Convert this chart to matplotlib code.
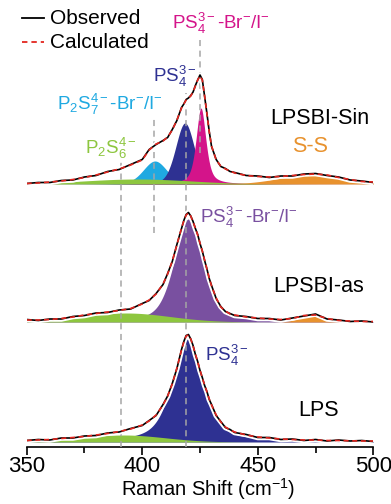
import numpy as np
import matplotlib
matplotlib.use("Agg")
import matplotlib.pyplot as plt
import matplotlib.patheffects as pe
from matplotlib.lines import Line2D

plt.rcParams['font.family'] = ['Liberation Sans', 'DejaVu Sans']
plt.rcParams['mathtext.fontset'] = 'custom'
plt.rcParams['mathtext.rm'] = 'Liberation Sans'
plt.rcParams['mathtext.it'] = 'Liberation Sans:italic'
plt.rcParams['mathtext.bf'] = 'Liberation Sans:bold'

# Raman shift grid (cm-1)
shift = [350, 355, 360, 365, 370, 375, 380, 385, 390, 395, 400,
         403, 406, 409, 411, 413, 415, 417,
         418, 419, 420, 421, 422, 423, 424, 425, 426, 427, 428, 429, 430,
         432, 434, 436, 438, 440,
         445, 450, 455, 460, 465, 470, 475, 480, 485, 490, 495, 500]

# LPSBI-Sin
sin_obs = [0.5, 1.5, 1.5, 3.5, 4, 7, 8.5, 12.5, 14.5, 19.5, 24.5,
           34.5, 39.5, 43.5, 46.5, 54.5, 63.5, 76.5,
           80, 84.5, 86, 88.5, 92, 98.5, 104, 109, 104.5, 87.5, 70.5, 52.5, 37.5,
           24.5, 17.5, 15.5, 12.5, 11.5,
           8.5, 8, 6.5, 8, 8, 10, 10.5, 8.5, 7, 4, 3, 1.5]
sin_calc = [0.5, 1, 2, 3, 4.5, 6.5, 9, 12, 15, 19, 24,
            34, 40, 43, 47, 54, 64, 76,
            80, 84, 86, 88, 92, 98, 104, 108, 104, 88, 70, 52, 38,
            24, 18, 15, 13, 11,
            8.5, 7.5, 7, 7.5, 8.5, 9.5, 10, 9, 6.5, 4.5, 2.5, 2]

# LPSBI-as
as_obs = [2.5, 1.5, 3, 3, 5.5, 6.5, 9, 9.5, 12, 13, 18.5,
          21.5, 28.5, 37.5, 48.5, 60.5, 77.5, 93.5,
          101.5, 107.5, 109.5, 106, 100.5, 93.5, 87.5, 78.5, 71, 61.5, 53, 43.5, 36.5,
          23.5, 15.5, 10.5, 8.5, 6.5,
          5.5, 3.5, 3.5, 2, 4, 6, 8, 3, 2, 0.5, 1, 0]
as_calc = [2, 2, 2.5, 3.5, 5, 7, 8.5, 10, 11.5, 13.5, 18,
           22, 28, 38, 48, 61, 77, 94,
           101, 107, 109, 106, 100, 94, 87, 79, 71, 62, 53, 44, 36,
           24, 15, 11, 8, 7,
           5, 4, 3, 2.5, 3.5, 6.5, 7, 3.5, 1.5, 1, 0.5, 0.5]

# LPS
lps_obs = [1.5, 2.5, 2, 4, 4, 6, 6.5, 9, 10, 13.5, 16.5,
           21.5, 26.5, 37.5, 46, 58.5, 73.5, 92.5,
           100.5, 106.5, 107.5, 103, 96.5, 87.5, 80.5, 71.5, 64.5, 56.5, 50.5, 42.5, 37.5,
           26.5, 20.5, 14.5, 12.5, 9.5,
           7.5, 4.5, 4.5, 2.5, 3, 1.5, 2.5, 1, 2, 1, 1.5, 0.5]
lps_calc = [1.5, 2, 2.5, 3.5, 4.5, 5.5, 7, 8.5, 10.5, 13, 17,
            21, 27, 37, 46, 58, 74, 92,
            100, 106, 107, 103, 96, 88, 80, 72, 64, 57, 50, 43, 37,
            27, 20, 15, 12, 10,
            7, 5, 4, 3, 2.5, 2, 2, 1.5, 1.5, 1.2, 1, 1]

# fitted bands: centre (cm-1), fwhm (cm-1), height, lorentz fraction
sin_centre = [398, 405.5, 418.5, 425.4, 472]
sin_fwhm = [55, 12, 9.5, 5, 32]
sin_height = [5, 23, 61, 76, 8.5]
sin_eta = [0, 0.2, 0.2, 0.6, 0]
sin_colors = ['#8DC63F', '#1FA9E1', '#2E3192', '#D4148A', '#E8922E']

as_centre = [393, 420, 473]
as_fwhm = [45, 14.5, 12]
as_height = [9, 103, 6]
as_eta = [0, 0.45, 0]
as_colors = ['#8DC63F', '#7950A0', '#E8922E']

lps_centre = [392, 419.5]
lps_fwhm = [42, 15.5]
lps_height = [7, 103]
lps_eta = [0, 0.6]
lps_colors = ['#8DC63F', '#2E3192']

offsets = {'sin': 263, 'as': 125, 'lps': 5}
guide_x = [391, 405, 419, 425]
guide_y = [(0, 287), (214, 329), (0, 354), (294, 407)]


def pvoigt(x, c, w, h, eta):
    d = (x - c) / (w / 2)
    lor = 1 / (1 + d ** 2)
    gau = np.exp(-np.log(2) * d ** 2)
    return h * (eta * lor + (1 - eta) * gau)


fig = plt.figure(figsize=(3.91, 5.04), dpi=100)
ax = fig.add_axes([26.7 / 391, 57 / 504, (373.3 - 26.7) / 391, 447 / 504])
xf = np.linspace(350, 500, 1201)

spectra = [
    ('sin', sin_obs, sin_calc, sin_centre, sin_fwhm, sin_height, sin_eta, sin_colors),
    ('as', as_obs, as_calc, as_centre, as_fwhm, as_height, as_eta, as_colors),
    ('lps', lps_obs, lps_calc, lps_centre, lps_fwhm, lps_height, lps_eta, lps_colors),
]
for key, obs, calc, cen, fw, hh, eta, cols in spectra:
    off = offsets[key]
    # green P2S6 band goes on top of the others
    order = list(range(1, len(cen))) + [0]
    for z, i in enumerate(order):
        yb = pvoigt(xf, cen[i], fw[i], hh[i], eta[i])
        ax.fill_between(xf, off, off + yb, color=cols[i], lw=0, zorder=2 + z * 0.1)
    ax.plot(shift, np.array(obs) + off, color='black', lw=1.2, zorder=5,
            path_effects=[pe.withStroke(linewidth=4, foreground='white')])
    ax.plot(shift, np.array(calc) + off, color='#E3261F', lw=1.2, dashes=(3, 2.2), zorder=6)

for gx, (y0, y1) in zip(guide_x, guide_y):
    ax.plot([gx, gx], [y0, y1], color='#A5A5A5', lw=1.1, dashes=(4, 3), zorder=4)

ax.set_xlim(350, 500)
ax.set_ylim(0, 447)
for s in ['left', 'right', 'top']:
    ax.spines[s].set_visible(False)
ax.spines['bottom'].set_linewidth(1.2)
ax.set_yticks([])
ax.set_xticks([350, 400, 450, 500])
ax.set_xticks([375, 425, 475], minor=True)
ax.tick_params(axis='x', which='major', length=6, width=1.2, labelsize=16, pad=0.5)
ax.tick_params(axis='x', which='minor', length=4, width=1.2)
ax.set_xlabel(r'Raman Shift (cm$^{-1}$)', fontsize=14.5)
ax.xaxis.set_label_coords(0.523, -0.064)

fs = 13.5
ax.text(412.9, 424, r'PS$_4^{3-}$-Br$^{-}$/I$^{-}$', color='#D4148A', fontsize=fs, va='center')
ax.text(404.6, 371, r'PS$_4^{3-}$', color='#2E3192', fontsize=fs, va='center')
ax.text(363.1, 343, r'P$_2$S$_7^{4-}$-Br$^{-}$/I$^{-}$', color='#1FA9E1', fontsize=fs, va='center')
ax.text(375.3, 299, r'P$_2$S$_6^{4-}$', color='#8DC63F', fontsize=fs, va='center')
ax.text(455.3, 328, 'LPSBI-Sin', color='black', fontsize=15.5, va='center')
ax.text(464.8, 300, 'S-S', color='#E8922E', fontsize=15.5, va='center')
ax.text(425.1, 230, r'PS$_4^{3-}$-Br$^{-}$/I$^{-}$', color='#7950A0', fontsize=fs, va='center')
ax.text(456.6, 161, 'LPSBI-as', color='black', fontsize=15.5, va='center')
ax.text(427.1, 92, r'PS$_4^{3-}$', color='#2E3192', fontsize=fs, va='center')
ax.text(467.4, 36, 'LPS', color='black', fontsize=15.5, va='center')

# legend drawn by hand so it sits where the original has it
legend_labels = ['Observed', 'Calculated']
legend_colors = ['black', '#E3261F']
legend_dashes = [(None, None), (3, 2.2)]
for k, (lab, col, ds) in enumerate(zip(legend_labels, legend_colors, legend_dashes)):
    yy = 1 - (18 + 24 * k) / 504
    ln = Line2D([22 / 391, 44 / 391], [yy, yy], color=col, lw=1.3, transform=fig.transFigure)
    if ds[0] is not None:
        ln.set_dashes(ds)
    fig.add_artist(ln)
    fig.text(50 / 391, yy, lab, fontsize=15, va='center', ha='left')

fig.savefig('out.png', dpi=100)
